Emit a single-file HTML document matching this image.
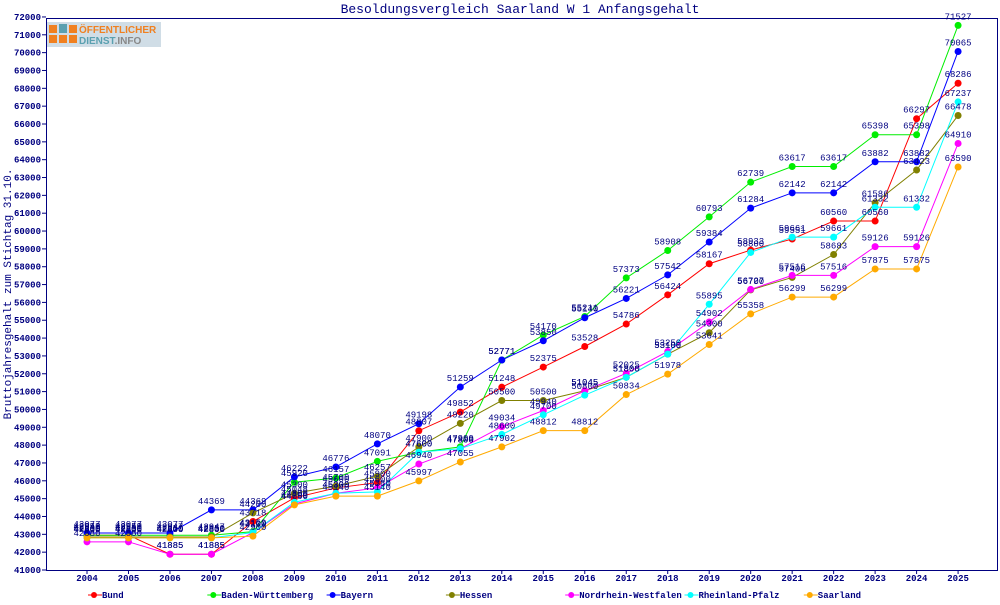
<!DOCTYPE html>
<html><head><meta charset="utf-8"><style>
body{margin:0;background:#fff;width:1000px;height:600px;overflow:hidden}
svg{font-family:"Liberation Mono",monospace}
</style></head><body>
<svg id="s" width="1000" height="600" xmlns="http://www.w3.org/2000/svg">
<rect x="0" y="0" width="1000" height="600" fill="#fff"/>
<text x="520" y="13" text-anchor="middle" font-size="13" fill="#000080">Besoldungsvergleich Saarland W 1 Anfangsgehalt</text>
<rect x="46.5" y="18.5" width="951" height="552" fill="none" stroke="#000080" stroke-width="1"/>
<rect x="47" y="22" width="114" height="25" fill="#d0dde6"/>
<rect x="49" y="25" width="8" height="8" fill="#f08020"/><rect x="59" y="24" width="8" height="9" fill="#5aa0b0"/><rect x="69" y="25" width="8" height="8" fill="#f08020"/>
<rect x="49" y="35" width="8" height="8" fill="#f08020"/><rect x="59" y="35" width="8" height="8" fill="#f08020"/><rect x="69" y="35" width="8" height="8" fill="#f08020"/>
<text x="79" y="33" font-family="Liberation Sans,sans-serif" font-weight="bold" font-size="10" fill="#f08020">ÖFFENTLICHER</text>
<text x="79" y="44" font-family="Liberation Sans,sans-serif" font-weight="bold" font-size="10" fill="#5aa0b0">DIENST<tspan fill="#888">.INFO</tspan></text>
<text transform="translate(11,294) rotate(-90)" text-anchor="middle" font-size="11" fill="#000080">Bruttojahresgehalt zum Stichtag 31.10.</text>
<g id="ax"></g><g id="ser"></g><g id="lab"></g><g id="leg"></g>
</svg>
<script>
const X=y=>87+(y-2004)*41.48, Y=v=>570-(v-41000)*0.01784;
const ns="http://www.w3.org/2000/svg";
function el(p,t,a,txt){const e=document.createElementNS(ns,t);for(const k in a)e.setAttribute(k,a[k]);if(txt!==undefined)e.textContent=txt;document.getElementById(p).appendChild(e);return e;}
for(let v=41000;v<=72000;v+=1000){const y=Y(v);el("ax","line",{x1:42,x2:46,y1:y,y2:y,stroke:"#000080"});el("ax","text",{x:41,y:y+3,"text-anchor":"end","font-size":"9","font-weight":"bold",fill:"#000080"},v);}
for(let yr=2004;yr<=2025;yr++){const x=X(yr);el("ax","line",{x1:x,x2:x,y1:570,y2:574,stroke:"#000080"});el("ax","text",{x:x,y:581,"text-anchor":"middle","font-size":"9","font-weight":"bold",fill:"#000080"},yr);}
const S=[
["Bund","#ff0000",[42950,42950,41885,41885,43718,45048,45600,45900,48807,49852,51248,52375,53528,54786,56424,58167,58933,59551,60560,60560,66297,68286]],
["Baden-Württemberg","#00ee00",[42947,42947,42947,42947,43150,45920,46157,47091,47600,47900,52771,54170,55211,57373,58908,60793,62739,63617,63617,65398,65398,71527]],
["Bayern","#0000ff",[43077,43077,43077,44369,44369,46222,46776,48070,49198,51259,52771,53850,55140,56221,57542,59384,61284,62142,62142,63882,63882,70065]],
["Hessen","#808000",[42850,42850,42850,42850,44200,45300,45700,46257,47900,49220,50500,50500,51045,51800,53100,54300,56700,57400,58683,61586,63423,66478]],
["Nordrhein-Westfalen","#ff00ff",[42580,42580,41885,41885,43100,44700,45300,45600,46940,47800,49034,49940,51045,52025,53250,54902,56727,57516,57516,59126,59126,64910]],
["Rheinland-Pfalz","#00ffff",[42800,42800,42800,42800,43100,44800,45300,45380,47600,47800,48600,49700,50800,51800,53100,55895,58800,59661,59661,61332,61332,67237]],
["Saarland","#ffaa00",[42800,42800,42800,42800,42900,44650,45140,45140,45997,47055,47902,48812,48812,50834,51978,53641,55358,56299,56299,57875,57875,63590]]];
S.forEach((s,i)=>{const pts=s[2].map((v,k)=>X(2004+k)+","+Y(v)).join(" ");
el("ser","polyline",{points:pts,fill:"none",stroke:s[1],"stroke-width":"1"});
s[2].forEach((v,k)=>{const x=X(2004+k),y=Y(v);el("ser","circle",{cx:x,cy:y,r:3.5,fill:s[1]});
el("lab","text",{x:x,y:y-6,"text-anchor":"middle","font-size":"9",fill:"#000080"},v);});
const lx=88+i*119.3;el("leg","line",{x1:lx,x2:lx+14,y1:595,y2:595,stroke:s[1]});el("leg","circle",{cx:lx+6,cy:595,r:3,fill:s[1]});
el("leg","text",{x:lx+14,y:598,"font-size":"9","font-weight":"bold",fill:"#000080"},s[0]);});
</script>
</body></html>
